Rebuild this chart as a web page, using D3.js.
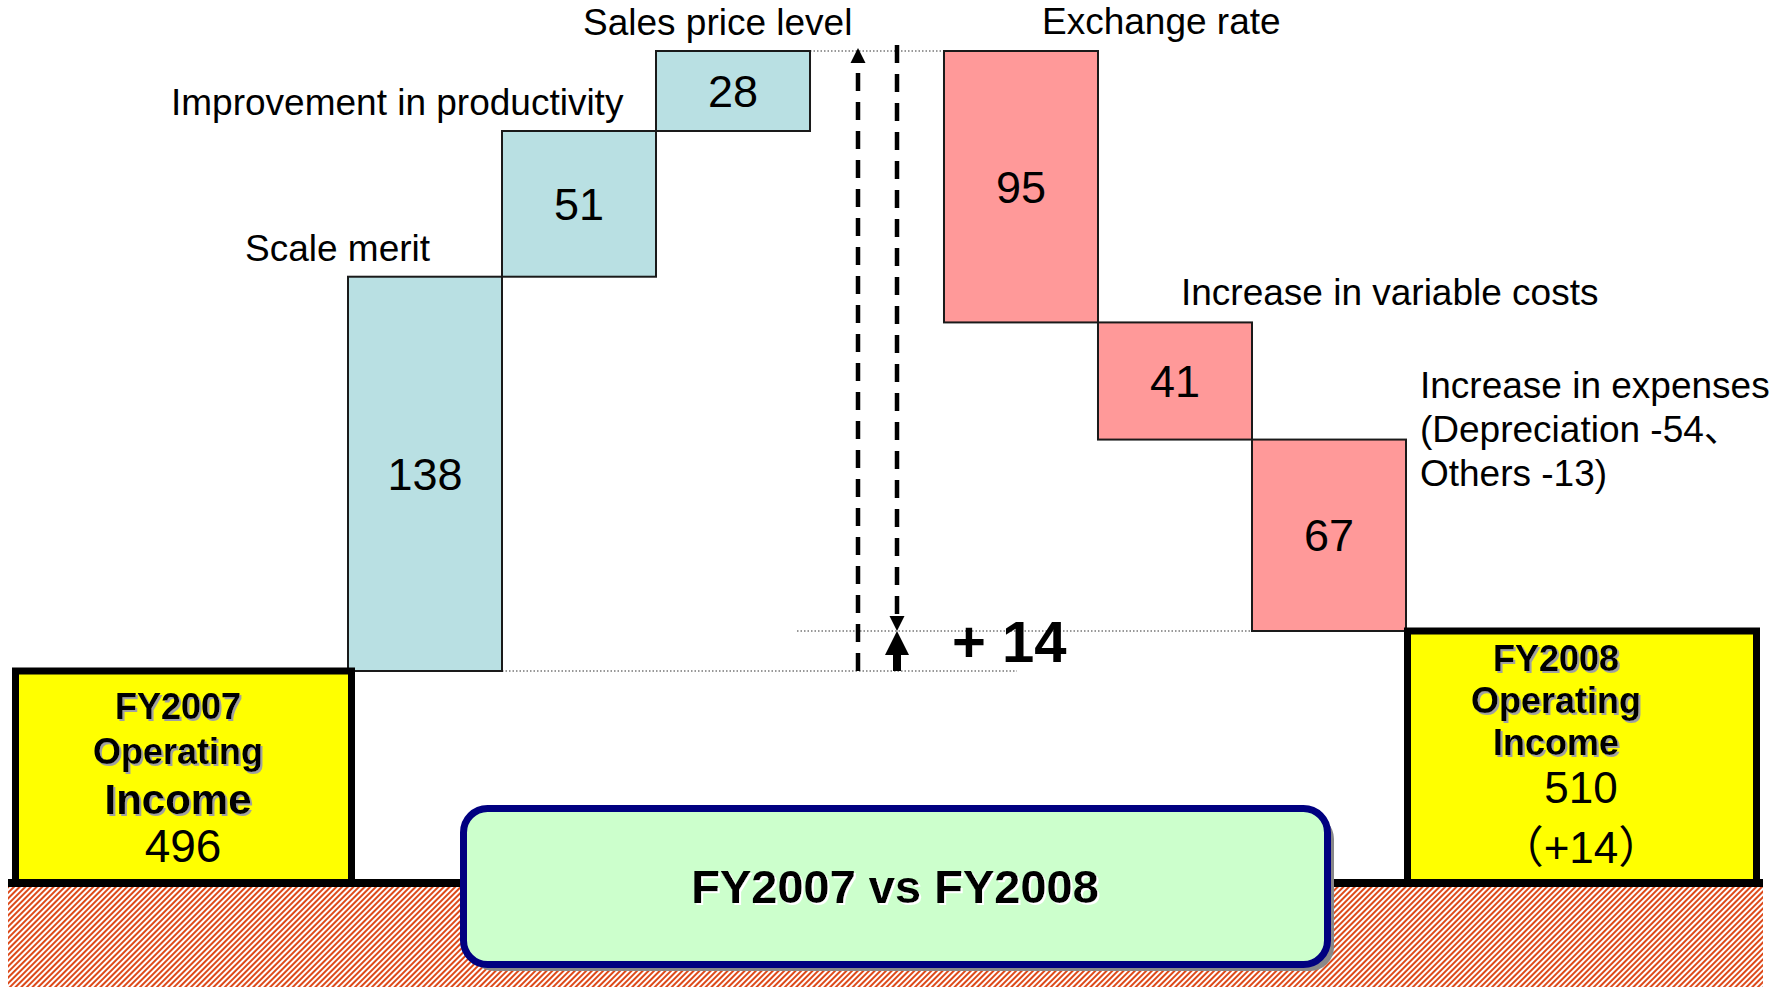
<!DOCTYPE html>
<html>
<head>
<meta charset="utf-8">
<script src="https://cdn.jsdelivr.net/npm/d3@7"></script>
<style>
  body { margin: 0; background: #fff; }
  text { font-family: "Liberation Sans", Arial, "Noto Sans CJK JP", sans-serif; }
</style>
</head>
<body>
<script>
// values (billion yen)
var startValue = 496;
var endValue = 510;
var startTitle = ["FY2007", "Operating", "Income"];
var endTitle = ["FY2008", "Operating", "Income"];
var gainLabels = [["Scale merit"], ["Improvement in productivity"], ["Sales price level"]];
var gainValues = [138, 51, 28];
var lossLabels = [["Exchange rate"], ["Increase in variable costs"], ["Increase in expenses", "(Depreciation -54、", "Others -13)"]];
var lossValues = [95, 41, 67];
var changeLabel = "+ 14";
var endChangeLabel = "（+14）";
var titleText = "FY2007 vs FY2008";

var width = 1788, height = 987;
var groundY = 883;       // centre of the black ground line
var GAP = 0.87;          // width of the empty slot between gains and losses (in bar steps)
// label offsets from the bar's left edge, and baseline offsets from its top
var labelDx = [-103, -331, -73, 98, 83, 168];
var labelDy = [-16, -16, -16, -17, -17, -42];

// build the waterfall steps
var steps = [], level = startValue;
gainValues.forEach(function (v, i) {
    steps.push({ label: gainLabels[i], value: v, kind: 'gain', from: level, to: level + v });
    level += v;
});
var peak = level;
lossValues.forEach(function (v, i) {
    steps.push({ label: lossLabels[i], value: v, kind: 'loss', from: level, to: level - v });
    level -= v;
});
steps.forEach(function (d, i) { d.slot = i + (i >= gainValues.length ? GAP : 0); });

var y = d3.scaleLinear().domain([startValue, peak]).range([671, 51]);
var x = d3.scaleLinear().domain([0, steps.length + GAP]).range([348, 1406]);
var step = x(1) - x(0);
var gapMid = (x(gainValues.length) + x(gainValues.length + GAP)) / 2;

var svg = d3.select('body').append('svg').attr('width', width).attr('height', height);
var defs = svg.append('defs');
var hatch = defs.append('pattern').attr('id', 'hatch')
    .attr('patternUnits', 'userSpaceOnUse')
    .attr('width', 4).attr('height', 4)
    .attr('patternTransform', 'rotate(45)');
hatch.append('rect').attr('width', 4).attr('height', 4).attr('fill', '#fff');
hatch.append('rect').attr('width', 2).attr('height', 4).attr('fill', '#dd4a1a');

// text shadows
defs.append('filter').attr('id', 'greyShadow').append('feDropShadow')
    .attr('dx', 2).attr('dy', 2).attr('stdDeviation', 0.3).attr('flood-color', '#a0a0a0').attr('flood-opacity', 1);
defs.append('filter').attr('id', 'whiteShadow').append('feDropShadow')
    .attr('dx', 2).attr('dy', 2).attr('stdDeviation', 0.3).attr('flood-color', '#fff').attr('flood-opacity', 1);

// ground
svg.append('rect').attr('x', 8).attr('y', groundY + 4).attr('width', 1755).attr('height', height - groundY - 4)
    .attr('fill', 'url(#hatch)');

// dotted guide lines
var guides = [
    { v: peak, x1: x(gainValues.length), x2: x(gainValues.length + GAP) },
    { v: endValue, x1: gapMid - 80, x2: x(steps.length - 1 + GAP) },
    { v: startValue, x1: x(1), x2: gapMid + 140 }
];
svg.append('g').selectAll('line').data(guides).enter().append('line')
    .attr('x1', d => d.x1).attr('x2', d => d.x2)
    .attr('y1', d => y(d.v)).attr('y2', d => y(d.v))
    .attr('stroke', '#333').attr('stroke-width', 1.2).attr('stroke-dasharray', '1.5,2');

// waterfall bars
var bars = svg.append('g').selectAll('g').data(steps).enter().append('g');
bars.append('rect')
    .attr('x', d => x(d.slot))
    .attr('y', d => y(Math.max(d.from, d.to)))
    .attr('width', step)
    .attr('height', d => Math.abs(y(d.from) - y(d.to)))
    .attr('fill', d => d.kind == 'gain' ? '#b9e0e3' : '#ff9999')
    .attr('stroke', '#1a1a1a').attr('stroke-width', 2);
bars.append('text')
    .attr('x', d => x(d.slot) + step / 2)
    .attr('y', d => (y(d.from) + y(d.to)) / 2)
    .attr('dy', '0.36em')
    .attr('text-anchor', 'middle')
    .attr('font-size', 45)
    .text(d => d.value);
bars.append('text')
    .attr('x', (d, i) => x(d.slot) + labelDx[i])
    .attr('y', (d, i) => y(Math.max(d.from, d.to)) + labelDy[i])
    .attr('font-size', 37)
    .selectAll('tspan').data(d => d.label).enter().append('tspan')
    .attr('x', function () { return d3.select(this.parentNode).attr('x'); })
    .attr('dy', (t, j) => j == 0 ? 0 : 44)
    .text(t => t);

// arrows in the gap
var ax1 = gapMid - 19, ax2 = gapMid + 20;
svg.append('line').attr('x1', ax1).attr('x2', ax1).attr('y1', y(startValue)).attr('y2', y(peak) + 12)
    .attr('stroke', '#000').attr('stroke-width', 4.5).attr('stroke-dasharray', '18,11');
svg.append('path').attr('d', d3.line()([[ax1, y(peak) - 3], [ax1 - 7.5, y(peak) + 12], [ax1 + 7.5, y(peak) + 12]]) + 'Z');
svg.append('line').attr('x1', ax2).attr('x2', ax2).attr('y1', y(peak) - 6).attr('y2', y(endValue) - 14)
    .attr('stroke', '#000').attr('stroke-width', 4.5).attr('stroke-dasharray', '18,11');
svg.append('path').attr('d', d3.line()([[ax2, y(endValue)], [ax2 - 7.5, y(endValue) - 15], [ax2 + 7.5, y(endValue) - 15]]) + 'Z');
svg.append('rect').attr('x', ax2 - 4).attr('y', y(endValue) + 20).attr('width', 8)
    .attr('height', y(startValue) - y(endValue) - 20);
svg.append('path').attr('d', d3.line()([[ax2, y(endValue)], [ax2 - 12, y(endValue) + 24], [ax2 + 12, y(endValue) + 24]]) + 'Z');
svg.append('text').attr('x', gapMid + 75).attr('y', y(startValue) - 9)
    .attr('font-size', 58).attr('font-weight', 'bold').text(changeLabel);

// FY totals (yellow boxes standing on the ground)
var totals = [
    { title: startTitle, value: startValue, x1: 15.5, x2: x(0) + 3.5, cx: 178, vx: 183,
      sizes: [36, 36, 42], valueSize: 46, base: [-164, -119, -69, -21], extra: null },
    { title: endTitle, value: endValue, x1: x(steps.length + GAP) + 1.5, x2: 1756.5, cx: 1556, vx: 1581,
      sizes: [36, 36, 36], valueSize: 44, base: [-212, -170, -128, -80, -20], extra: endChangeLabel }
];
var tg = svg.append('g').selectAll('g').data(totals).enter().append('g');
tg.append('rect')
    .attr('x', d => d.x1).attr('y', d => y(d.value))
    .attr('width', d => d.x2 - d.x1).attr('height', d => groundY - y(d.value))
    .attr('fill', '#ffff00').attr('stroke', '#000').attr('stroke-width', 7);
tg.each(function (d) {
    var g = d3.select(this);
    d.title.forEach(function (t, j) {
        g.append('text').attr('x', d.cx).attr('y', groundY + d.base[j])
            .attr('text-anchor', 'middle').attr('font-weight', 'bold')
            .attr('font-size', d.sizes[j]).attr('filter', 'url(#greyShadow)').text(t);
    });
    g.append('text').attr('x', d.vx).attr('y', groundY + d.base[3])
        .attr('text-anchor', 'middle').attr('font-size', d.valueSize).text(d.value);
    if (d.extra) {
        g.append('text').attr('x', d.vx).attr('y', groundY + d.base[4])
            .attr('text-anchor', 'middle').attr('font-size', 44).text(d.extra);
    }
});

// ground line
svg.append('rect').attr('x', 8).attr('y', groundY - 4).attr('width', 1755).attr('height', 8).attr('fill', '#000');

// title box
svg.append('rect').attr('x', 470).attr('y', 815).attr('width', 864).attr('height', 156)
    .attr('rx', 24).attr('fill', '#888');
svg.append('rect').attr('x', 463.5).attr('y', 808.5).attr('width', 864).attr('height', 156)
    .attr('rx', 24).attr('fill', '#ccffcc').attr('stroke', '#000080').attr('stroke-width', 7);
svg.append('text').attr('x', 895).attr('y', 903)
    .attr('text-anchor', 'middle').attr('font-size', 47).attr('font-weight', 'bold')
    .attr('filter', 'url(#whiteShadow)').text(titleText);
</script>
</body>
</html>
